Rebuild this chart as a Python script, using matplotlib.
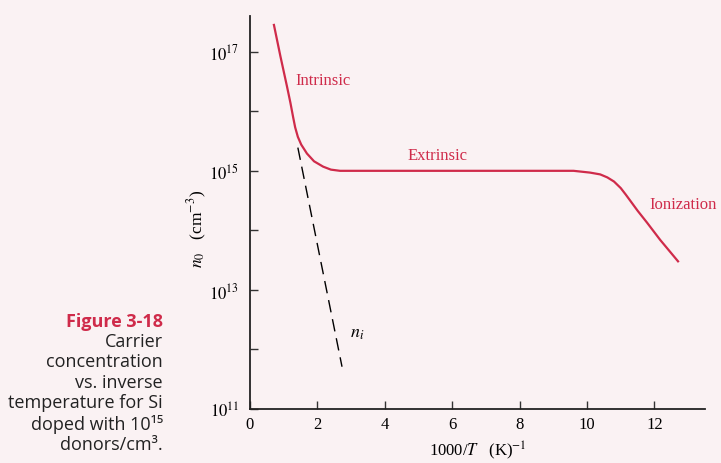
import numpy as np
import matplotlib.pyplot as plt
from matplotlib.ticker import NullFormatter

plt.rcParams["mathtext.fontset"] = "stix"
plt.rcParams["font.family"] = ["Liberation Serif", "DejaVu Serif"]

RED = "#cf2b4a"
PAPER = "#faf2f3"

# carrier concentration n0 (log10 cm^-3) vs 1000/T
x_n0 = [0.71, 0.90, 1.10, 1.20, 1.28, 1.34, 1.42, 1.52, 1.69, 1.90, 2.17,
        2.40, 2.67, 4.0, 6.0, 8.0, 9.6, 10.09, 10.39, 10.60, 10.80, 11.00,
        11.15, 11.28, 11.50, 11.78, 12.17, 12.70]
log_n0 = [17.45, 16.93, 16.41, 16.14, 15.90, 15.73, 15.57, 15.44, 15.29,
          15.16, 15.07, 15.02, 15.00, 15.00, 15.00, 15.00, 15.00, 14.97,
          14.94, 14.89, 14.82, 14.71, 14.60, 14.50, 14.33, 14.13, 13.84,
          13.48]

# intrinsic concentration ni (dashed)
x_ni = [1.42, 2.73]
log_ni = [15.39, 11.71]

ytick_vals = [11, 13, 15, 17]
ytick_minor = [12, 14, 16]
xtick_vals = [0, 2, 4, 6, 8, 10, 12]

caption = ["Carrier", "concentration", "vs. inverse", "temperature for Si",
           "doped with 10\u00b9\u2075", "donors/cm\u00b3."]

fig = plt.figure(figsize=(7.21, 4.64), dpi=100, facecolor=PAPER)
ax = fig.add_axes([250 / 721, 1 - 410 / 464, 455 / 721, 393 / 464])
ax.set_facecolor("none")

ax.plot(x_n0, 10 ** np.array(log_n0), color=RED, lw=1.6,
        solid_joinstyle="round")
ax.plot(x_ni, 10 ** np.array(log_ni), color="black", lw=1.0,
        dashes=(9, 5))

ax.set_yscale("log")
ax.set_xlim(0, 13.5)
ax.set_ylim(1e11, 10 ** 17.6)

ax.set_yticks([10.0 ** v for v in ytick_vals])
ax.set_yticklabels([rf"$10^{{{v}}}$" for v in ytick_vals])
ax.set_yticks([10.0 ** v for v in ytick_minor], minor=True)
ax.yaxis.set_minor_formatter(NullFormatter())
ax.set_xticks(xtick_vals)
ax.set_xticklabels([str(v) for v in xtick_vals])

ax.tick_params(which="both", direction="in", length=6, width=1,
               labelsize=12, color="#333333")
ax.tick_params(axis="y", pad=8)
ax.tick_params(axis="x", pad=5)

for s in ("top", "right"):
    ax.spines[s].set_visible(False)
for s in ("left", "bottom"):
    ax.spines[s].set_linewidth(1.3)
    ax.spines[s].set_color("#222222")

ax.set_xlabel(r"1000/$T$   (K)$^{-1}$", fontsize=12, labelpad=5)
ax.set_ylabel(r"$n_0$   (cm$^{-3}$)", fontsize=12.5)
ax.yaxis.set_label_coords(-0.09, 0.46)

ax.text(2.17, 10 ** 16.53, "Intrinsic", color=RED, fontsize=12,
        ha="center", va="center")
ax.text(5.55, 10 ** 15.27, "Extrinsic", color=RED, fontsize=12,
        ha="center", va="center")
ax.text(12.85, 10 ** 14.45, "Ionization", color=RED, fontsize=12,
        ha="center", va="center", clip_on=False)
ax.text(3.17, 10 ** 12.28, r"$n_i$", fontsize=13, ha="center", va="center")

fig.text(163 / 721, 1 - 322 / 464, "Figure 3-18", color=RED, fontsize=13,
         fontweight="bold", ha="right", va="center",
         family=["Open Sans", "DejaVu Sans"])
fig.text(163 / 721, 1 - 333 / 464, "\n".join(caption), color="#222222",
         fontsize=13, ha="right", va="top", multialignment="right",
         linespacing=1.17, family=["Open Sans", "DejaVu Sans"])

fig.savefig("out.png", dpi=100, facecolor=PAPER)
